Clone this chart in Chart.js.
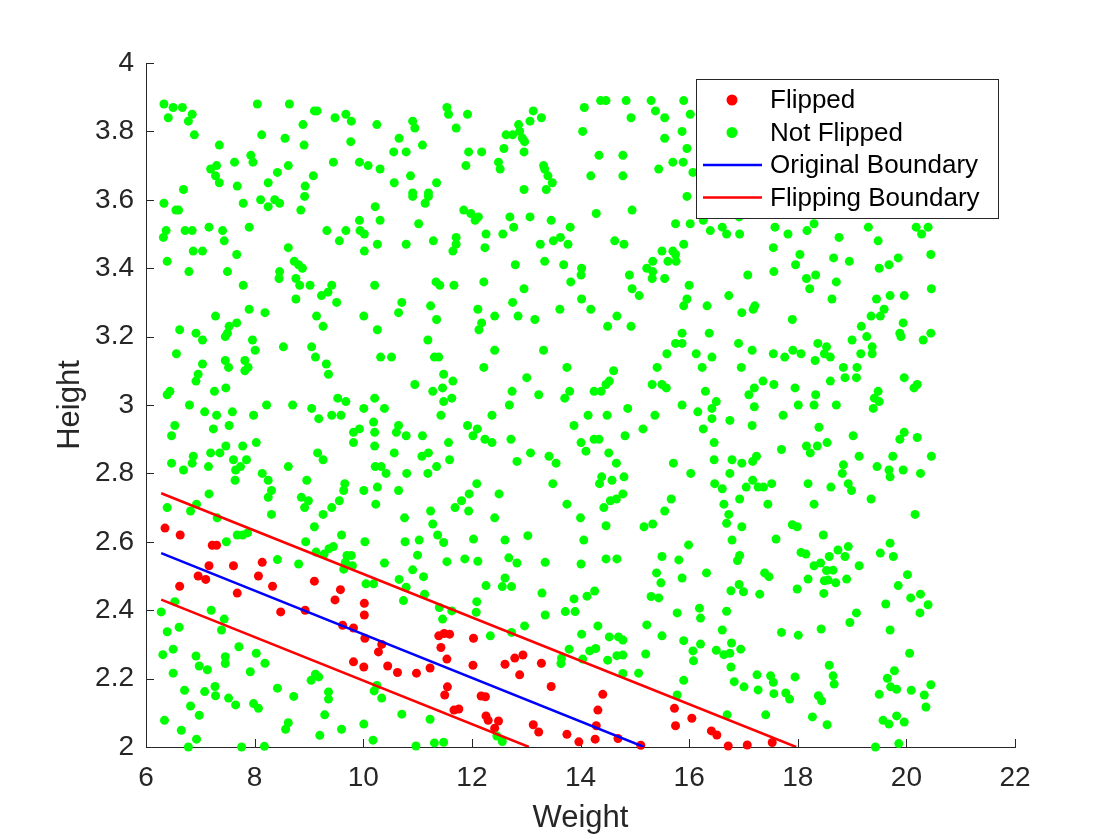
<!DOCTYPE html>
<html>
<head>
<meta charset="utf-8">
<title>Flipped vs Not Flipped</title>
<script src="https://cdn.jsdelivr.net/npm/chart.js@4.4.1/dist/chart.umd.min.js"></script>
<style>
  html, body { margin: 0; padding: 0; background: #fff; }
  #wrap { width: 1120px; height: 840px; }
</style>
</head>
<body>
<div id="wrap"><canvas id="chart"></canvas></div>
<script>
// tick labels
const weightTicks = [6, 8, 10, 12, 14, 16, 18, 20, 22];
const heightTicks = [2, 2.2, 2.4, 2.6, 2.8, 3, 3.2, 3.4, 3.6, 3.8, 4];

// [weight, height]
const flipped = [
  [6.35, 2.64], [6.63, 2.62], [7.22, 2.59], [7.30, 2.59], [7.16, 2.53], [7.61, 2.53], [8.14, 2.54],
  [6.96, 2.50], [7.10, 2.49], [6.62, 2.47], [8.07, 2.50], [8.33, 2.47], [7.68, 2.45], [9.10, 2.485],
  [9.58, 2.46], [9.48, 2.43], [10.02, 2.42], [10.02, 2.386], [8.48, 2.395], [8.93, 2.40], [9.62, 2.356],
  [9.82, 2.348], [10.03, 2.318], [10.34, 2.30], [10.28, 2.278], [9.82, 2.249], [10.01, 2.234], [10.45, 2.237],
  [10.63, 2.218],
  [11.39, 2.325], [11.49, 2.332], [11.59, 2.33], [12.03, 2.318], [11.43, 2.291], [11.54, 2.257], [11.23, 2.231],
  [10.98, 2.216], [12.02, 2.239], [12.61, 2.242], [12.79, 2.26], [12.94, 2.269], [13.28, 2.245], [12.88, 2.211],
  [13.46, 2.177], [11.55, 2.176], [11.50, 2.152], [12.17, 2.149], [12.25, 2.147], [14.41, 2.154], [14.32, 2.108],
  [11.67, 2.108], [11.76, 2.111], [12.26, 2.091], [12.30, 2.078], [12.49, 2.076], [12.42, 2.055], [13.13, 2.065],
  [13.23, 2.044], [13.75, 2.037], [13.97, 2.015], [14.29, 2.062], [14.27, 2.023], [14.69, 2.025], [15.11, 2.005],
  [15.73, 2.113], [15.75, 2.062], [16.05, 2.084], [16.41, 2.047], [16.51, 2.035], [16.72, 2.003], [17.07, 2.006],
  [17.53, 2.013]
];

const notFlipped = [
  // upper left
  [6.33, 3.88], [6.50, 3.87], [6.67, 3.87], [6.41, 3.84], [6.78, 3.83], [6.85, 3.85], [6.89, 3.79], [7.35, 3.76],
  [8.05, 3.88], [8.64, 3.88], [8.13, 3.79], [8.56, 3.78], [9.10, 3.86], [9.15, 3.86], [8.89, 3.82], [8.91, 3.76],
  [9.48, 3.84], [9.68, 3.85], [9.78, 3.83], [10.25, 3.82], [9.77, 3.77], [10.66, 3.78], [10.56, 3.74], [10.79, 3.74],
  [7.19, 3.69], [7.30, 3.70], [7.63, 3.71], [7.93, 3.73], [7.97, 3.71], [7.28, 3.67], [7.35, 3.65], [7.68, 3.64],
  [8.25, 3.65], [8.42, 3.68], [8.62, 3.70], [9.08, 3.67], [8.93, 3.64], [8.92, 3.61], [8.85, 3.57], [9.45, 3.71],
  [9.93, 3.71], [10.09, 3.70], [10.31, 3.69], [10.57, 3.65], [6.69, 3.63], [6.33, 3.59], [6.55, 3.57], [6.60, 3.57],
  [7.79, 3.59], [8.11, 3.60], [8.25, 3.58], [8.37, 3.60], [8.46, 3.59], [10.22, 3.58], [9.93, 3.54], [10.31, 3.54],
  [6.37, 3.51], [6.32, 3.49], [6.72, 3.51], [6.85, 3.51], [7.16, 3.52], [7.41, 3.51], [7.44, 3.48], [7.90, 3.52],
  [9.33, 3.51], [9.68, 3.51], [9.56, 3.48], [9.94, 3.51], [10.02, 3.50], [10.26, 3.47], [10.79, 3.47], [6.87, 3.45],
  [7.04, 3.45], [7.67, 3.44], [8.62, 3.46], [10.02, 3.45], [6.39, 3.42], [6.79, 3.39], [7.50, 3.39], [8.73, 3.42],
  [8.81, 3.41], [8.88, 3.40], [8.46, 3.39], [8.45, 3.37], [8.76, 3.37], [7.79, 3.35], [8.83, 3.35], [9.02, 3.35],
  [9.42, 3.35], [9.35, 3.33], [10.21, 3.35],
  // upper middle
  [10.91, 3.83], [10.95, 3.81], [11.54, 3.87], [11.57, 3.85], [11.92, 3.85], [11.71, 3.81], [11.09, 3.76], [13.13, 3.86],
  [13.07, 3.83], [13.28, 3.84], [12.86, 3.82], [12.63, 3.79], [12.75, 3.79], [12.88, 3.80], [12.93, 3.78], [12.97, 3.77],
  [11.94, 3.74], [12.18, 3.74], [12.59, 3.75], [12.96, 3.74], [11.89, 3.70], [12.49, 3.71], [12.52, 3.69], [13.32, 3.70],
  [13.34, 3.69], [13.40, 3.67], [13.48, 3.65], [12.96, 3.63], [13.37, 3.63], [10.87, 3.67], [11.35, 3.65], [10.91, 3.62],
  [10.91, 3.61], [11.20, 3.62], [11.20, 3.61], [11.14, 3.59], [14.07, 3.87], [14.37, 3.89], [14.47, 3.89], [14.84, 3.89],
  [15.30, 3.89], [15.38, 3.86], [14.93, 3.84], [15.55, 3.84], [14.04, 3.80], [15.55, 3.78], [14.34, 3.73], [14.78, 3.73],
  [15.44, 3.69], [14.19, 3.67], [14.78, 3.67], [14.95, 3.57], [14.29, 3.56], [11.85, 3.57], [11.98, 3.56], [12.12, 3.55],
  [12.06, 3.54], [11.02, 3.53], [12.70, 3.55], [13.07, 3.55], [13.46, 3.54], [13.81, 3.52], [12.26, 3.50], [12.57, 3.50],
  [12.77, 3.52], [11.71, 3.49], [11.71, 3.47], [11.65, 3.45], [11.29, 3.48], [12.24, 3.46], [13.26, 3.47], [13.50, 3.48],
  [13.63, 3.49], [13.77, 3.47], [14.63, 3.48], [14.80, 3.47], [15.50, 3.45], [15.33, 3.42], [15.22, 3.40], [15.33, 3.39],
  [15.32, 3.37], [15.55, 3.37], [15.61, 3.42], [13.34, 3.42], [13.69, 3.41], [14.02, 3.40], [14.01, 3.38], [12.80, 3.41],
  [14.90, 3.38], [11.34, 3.36], [11.41, 3.35], [11.67, 3.35], [12.22, 3.36], [12.96, 3.34], [13.82, 3.36], [14.95, 3.34],
  // upper right
  [15.90, 3.89], [16.02, 3.85], [15.87, 3.80], [15.96, 3.75], [15.70, 3.71], [15.89, 3.71], [16.07, 3.68], [15.96, 3.61],
  [15.75, 3.53], [16.02, 3.53], [16.26, 3.54], [16.39, 3.51], [16.61, 3.52], [16.69, 3.50], [16.93, 3.50], [16.92, 3.55],
  [17.58, 3.52], [17.82, 3.50], [18.17, 3.51], [18.30, 3.53], [18.76, 3.49], [19.30, 3.52], [19.48, 3.48], [20.18, 3.52],
  [20.28, 3.50], [20.40, 3.52], [15.90, 3.47], [15.70, 3.45], [15.75, 3.44], [15.76, 3.42], [17.55, 3.46], [18.04, 3.44],
  [17.96, 3.41], [18.66, 3.43], [18.95, 3.42], [19.85, 3.43], [20.45, 3.44], [19.50, 3.40], [19.68, 3.41], [17.08, 3.38],
  [17.56, 3.39], [18.16, 3.37], [18.33, 3.38], [18.71, 3.36], [16.00, 3.35], [20.46, 3.34], [18.22, 3.34],
  // middle left
  [8.76, 3.31], [9.23, 3.32], [9.51, 3.30], [10.71, 3.30], [10.65, 3.27], [10.01, 3.26], [9.14, 3.26], [9.26, 3.23],
  [10.26, 3.22], [7.90, 3.28], [8.19, 3.27], [7.28, 3.26], [6.62, 3.22], [6.92, 3.21], [7.04, 3.19], [7.53, 3.23],
  [7.67, 3.24], [7.50, 3.21], [7.46, 3.20], [7.96, 3.19], [8.01, 3.16], [8.53, 3.17], [9.05, 3.17], [9.12, 3.14],
  [9.32, 3.12], [9.36, 3.09], [10.32, 3.14], [10.52, 3.14], [6.56, 3.15], [7.04, 3.12], [7.46, 3.13], [7.52, 3.11],
  [7.82, 3.13], [7.88, 3.11], [7.82, 3.10], [6.96, 3.09], [6.92, 3.07], [6.44, 3.04], [6.39, 3.03], [7.26, 3.04],
  [7.47, 3.05], [6.80, 3.00], [7.08, 2.98], [7.30, 2.97], [7.59, 2.98], [7.98, 2.97], [8.22, 3.00], [8.70, 3.00],
  [9.05, 2.99], [9.18, 2.96], [9.42, 2.97], [9.59, 2.97], [9.53, 3.02], [9.68, 3.01], [10.01, 2.99], [10.21, 3.02],
  [10.39, 2.99], [10.19, 2.95], [10.21, 2.92], [10.65, 2.94], [10.61, 2.92], [10.79, 2.91], [9.82, 2.92], [9.93, 2.93],
  [9.82, 2.89], [10.21, 2.88], [10.57, 2.86], [6.53, 2.94], [6.47, 2.91], [7.24, 2.93], [7.53, 2.94], [7.47, 2.88],
  [7.36, 2.86], [7.19, 2.86], [7.78, 2.88], [8.03, 2.89], [6.87, 2.85], [6.85, 2.83], [6.47, 2.83], [6.69, 2.81],
  [7.15, 2.82], [7.61, 2.84], [7.85, 2.84], [7.65, 2.81], [7.74, 2.82], [7.64, 2.78], [8.14, 2.80], [8.25, 2.78],
  [8.62, 2.82], [9.16, 2.86], [9.26, 2.84], [8.96, 2.78], [8.31, 2.75], [8.25, 2.73], [8.86, 2.73], [8.99, 2.72],
  [8.92, 2.70], [9.66, 2.77], [9.64, 2.75], [9.56, 2.72], [9.42, 2.70], [9.26, 2.68], [10.01, 2.75], [10.26, 2.76],
  [10.65, 2.75], [10.23, 2.71], [10.22, 2.82], [10.33, 2.82], [10.42, 2.80], [10.80, 2.80], [7.16, 2.74], [6.93, 2.71],
  [6.82, 2.69], [6.39, 2.70], [7.31, 2.67], [8.31, 2.68], [10.76, 2.67],
  // middle centre
  [11.24, 3.29], [11.35, 3.25], [12.11, 3.28], [12.18, 3.24], [12.13, 3.22], [12.42, 3.26], [12.75, 3.30], [12.85, 3.26],
  [13.16, 3.25], [13.62, 3.28], [14.02, 3.31], [14.19, 3.28], [14.67, 3.26], [14.50, 3.23], [14.93, 3.23], [15.08, 3.32],
  [11.19, 3.19], [11.31, 3.14], [11.39, 3.14], [12.42, 3.16], [13.32, 3.16], [12.22, 3.11], [13.75, 3.11], [13.01, 3.08],
  [10.95, 3.06], [11.48, 3.09], [11.46, 3.05], [11.65, 3.07], [11.28, 3.04], [11.48, 3.01], [11.63, 3.02], [11.43, 2.97],
  [12.74, 3.04], [13.23, 3.03], [12.69, 3.00], [13.80, 3.04], [13.71, 3.02], [14.25, 3.04], [14.38, 3.04], [14.47, 3.06],
  [14.53, 3.07], [14.61, 3.10], [15.41, 3.11], [15.59, 3.15], [15.32, 3.06], [15.50, 3.06], [15.58, 3.05], [12.37, 2.97],
  [14.14, 2.97], [14.49, 2.97], [14.87, 2.99], [15.37, 2.97], [13.88, 2.94], [11.92, 2.94], [12.10, 2.93], [12.02, 2.91],
  [12.24, 2.90], [12.37, 2.89], [12.72, 2.90], [11.09, 2.91], [11.57, 2.89], [11.08, 2.85], [11.20, 2.86], [11.35, 2.82],
  [11.59, 2.84], [11.19, 2.80], [12.83, 2.835], [13.08, 2.86], [13.42, 2.85], [13.55, 2.83], [14.01, 2.89], [14.10, 2.865],
  [14.25, 2.90], [14.34, 2.90], [14.52, 2.86], [14.66, 2.83], [14.82, 2.91], [15.15, 2.93], [14.39, 2.79], [14.35, 2.77],
  [14.58, 2.78], [14.80, 2.79], [13.49, 2.77], [12.09, 2.77], [12.50, 2.74], [11.95, 2.74], [11.81, 2.72], [11.69, 2.70],
  [11.94, 2.69], [11.24, 2.69], [12.42, 2.67], [13.75, 2.71], [14.00, 2.67], [14.43, 2.70], [14.55, 2.72], [14.66, 2.725],
  [14.78, 2.74], [15.55, 2.69],
  // middle right
  [16.73, 3.32], [18.63, 3.31], [19.45, 3.31], [19.70, 3.32], [19.96, 3.32], [15.96, 3.31], [15.90, 3.29], [16.33, 3.29],
  [16.97, 3.27], [17.18, 3.28], [17.21, 3.29], [17.90, 3.25], [19.59, 3.28], [19.52, 3.26], [19.35, 3.26], [19.94, 3.24],
  [19.17, 3.23], [19.27, 3.20], [19.00, 3.19], [19.88, 3.21], [19.90, 3.20], [20.45, 3.21], [20.31, 3.19], [15.87, 3.21],
  [16.37, 3.21], [15.75, 3.18], [15.87, 3.18], [16.13, 3.15], [16.42, 3.14], [16.24, 3.11], [16.91, 3.18], [17.16, 3.16],
  [17.55, 3.15], [17.76, 3.14], [17.91, 3.16], [18.06, 3.15], [18.37, 3.18], [18.53, 3.17], [18.49, 3.15], [18.60, 3.14],
  [18.32, 3.13], [19.37, 3.17], [19.37, 3.15], [19.16, 3.15], [18.84, 3.11], [19.09, 3.11], [18.87, 3.08], [19.08, 3.08],
  [16.96, 3.11], [17.36, 3.07], [17.56, 3.06], [18.60, 3.07], [19.96, 3.08], [20.20, 3.06], [20.14, 3.05], [16.30, 3.04],
  [17.20, 3.05], [17.10, 3.03], [17.95, 3.05], [18.33, 3.03], [18.30, 3.00], [18.01, 3.00], [17.20, 2.995], [16.50, 3.01],
  [16.42, 2.99], [15.87, 3.00], [16.16, 2.98], [18.71, 3.00], [19.48, 3.04], [19.41, 3.02], [19.50, 3.01], [19.39, 2.99],
  [17.73, 2.97], [16.42, 2.96], [16.75, 2.955], [16.26, 2.93], [17.16, 2.94], [18.39, 2.935], [16.46, 2.89], [19.02, 2.91],
  [19.96, 2.92], [19.88, 2.90], [20.20, 2.905], [17.70, 2.87], [18.16, 2.88], [18.23, 2.86], [18.36, 2.88], [18.54, 2.89],
  [16.46, 2.84], [16.79, 2.84], [16.97, 2.83], [17.17, 2.835], [17.24, 2.85], [15.71, 2.83], [16.03, 2.80], [16.75, 2.80],
  [19.13, 2.85], [18.84, 2.825], [18.82, 2.80], [19.46, 2.82], [19.68, 2.81], [19.70, 2.79], [19.94, 2.81], [20.26, 2.80],
  [19.75, 2.85], [20.46, 2.85], [16.47, 2.77], [16.61, 2.755], [17.05, 2.76], [17.17, 2.78], [17.27, 2.76], [17.37, 2.76],
  [17.52, 2.77], [18.19, 2.77], [18.61, 2.76], [18.93, 2.77], [18.99, 2.75], [16.93, 2.725], [17.45, 2.71], [18.30, 2.71],
  [19.35, 2.725], [16.64, 2.71], [15.67, 2.725], [16.73, 2.68], [20.16, 2.68],
  // lower left
  [7.68, 2.62], [7.78, 2.62], [7.87, 2.626], [7.48, 2.60], [9.10, 2.644], [9.60, 2.62], [8.94, 2.60], [9.13, 2.57],
  [9.28, 2.564], [9.37, 2.58], [9.45, 2.586], [10.03, 2.60], [9.70, 2.56], [9.78, 2.56], [9.67, 2.54], [9.80, 2.53],
  [9.64, 2.52], [8.42, 2.548], [8.81, 2.535], [10.39, 2.538], [10.77, 2.60], [10.05, 2.477], [10.19, 2.477], [10.66, 2.49],
  [10.79, 2.467], [10.74, 2.428], [6.28, 2.395], [6.53, 2.425], [7.20, 2.40], [7.44, 2.374], [7.39, 2.342], [6.61, 2.35],
  [6.39, 2.337], [6.50, 2.286], [6.31, 2.27], [6.92, 2.266], [6.98, 2.237], [7.13, 2.226], [6.50, 2.216], [7.46, 2.264],
  [7.46, 2.244], [7.71, 2.293], [8.03, 2.274], [8.19, 2.245], [7.92, 2.22], [6.71, 2.166], [7.08, 2.162], [7.27, 2.177],
  [7.28, 2.15], [7.52, 2.143], [7.65, 2.123], [6.82, 2.12], [6.98, 2.093], [6.34, 2.078], [6.65, 2.049], [6.93, 2.023],
  [6.78, 2.00], [7.76, 2.00], [8.18, 2.002], [7.98, 2.127], [8.07, 2.113], [8.42, 2.172], [8.72, 2.148], [9.04, 2.195],
  [9.12, 2.213], [9.18, 2.205], [9.36, 2.161], [9.36, 2.14], [9.29, 2.094], [8.62, 2.071], [8.57, 2.052], [9.20, 2.034],
  [9.60, 2.052], [10.01, 2.067], [10.18, 2.02], [10.25, 2.18], [10.20, 2.164], [10.34, 2.143], [10.71, 2.096],
  // lower centre
  [11.28, 2.652], [11.03, 2.605], [11.37, 2.62], [11.48, 2.598], [12.03, 2.608], [12.61, 2.605], [13.03, 2.618], [14.47, 2.647],
  [15.17, 2.644], [15.33, 2.652], [14.06, 2.605], [11.00, 2.561], [11.54, 2.542], [11.87, 2.55], [12.11, 2.543], [12.68, 2.553],
  [12.83, 2.538], [13.35, 2.54], [14.01, 2.535], [14.47, 2.55], [14.67, 2.55], [15.50, 2.557], [10.91, 2.518], [11.11, 2.498],
  [15.40, 2.509], [15.48, 2.48], [12.61, 2.494], [12.56, 2.469], [12.73, 2.469], [12.26, 2.472], [13.29, 2.45], [11.13, 2.447],
  [15.30, 2.44], [15.44, 2.436], [14.12, 2.441], [14.26, 2.456], [13.88, 2.433], [12.09, 2.425], [12.08, 2.394], [11.40, 2.408],
  [11.63, 2.398], [11.46, 2.374], [13.72, 2.396], [13.90, 2.396], [13.35, 2.386], [12.97, 2.354], [14.32, 2.354], [15.22, 2.357],
  [15.50, 2.325], [14.02, 2.33], [14.53, 2.322], [14.70, 2.322], [14.78, 2.313], [12.34, 2.325], [12.73, 2.335], [13.79, 2.286],
  [14.17, 2.281], [14.28, 2.288], [13.65, 2.26], [13.64, 2.244], [14.04, 2.257], [14.50, 2.254], [14.67, 2.267], [14.78, 2.269],
  [15.20, 2.272], [14.78, 2.215], [15.07, 2.216], [11.23, 2.081], [10.97, 2.003], [11.31, 2.012], [11.48, 2.014], [12.46, 2.032],
  [12.56, 2.016],
  // lower right
  [16.69, 2.654], [16.97, 2.644], [17.90, 2.65], [17.99, 2.644], [18.47, 2.62], [17.60, 2.608], [16.79, 2.605], [15.99, 2.591],
  [15.81, 2.547], [15.87, 2.494], [16.32, 2.509], [16.93, 2.56], [16.89, 2.545], [17.39, 2.509], [17.47, 2.498], [16.92, 2.475],
  [17.00, 2.454], [16.77, 2.457], [17.30, 2.447], [18.06, 2.569], [18.15, 2.564], [18.58, 2.557], [18.74, 2.576], [18.93, 2.586],
  [18.87, 2.557], [19.13, 2.53], [18.30, 2.53], [18.42, 2.538], [18.53, 2.516], [18.65, 2.517], [18.19, 2.491], [18.49, 2.486],
  [18.56, 2.488], [18.70, 2.48], [18.90, 2.491], [17.99, 2.462], [18.48, 2.449], [19.52, 2.567], [19.70, 2.596], [19.76, 2.557],
  [20.02, 2.504], [19.85, 2.472], [20.08, 2.436], [20.26, 2.447], [20.40, 2.416], [20.25, 2.392], [19.62, 2.418], [15.78, 2.392],
  [16.19, 2.406], [16.21, 2.377], [16.69, 2.397], [16.61, 2.342], [19.08, 2.392], [18.96, 2.364], [18.43, 2.345], [19.70, 2.342],
  [17.70, 2.335], [18.01, 2.327], [15.90, 2.311], [16.07, 2.281], [16.21, 2.301], [16.50, 2.283], [16.64, 2.27], [16.75, 2.274],
  [16.78, 2.304], [16.95, 2.286], [16.08, 2.252], [16.77, 2.234], [15.90, 2.195], [16.83, 2.191], [17.01, 2.176], [17.25, 2.211],
  [17.50, 2.208], [17.55, 2.189], [17.27, 2.167], [17.56, 2.156], [17.78, 2.158], [17.85, 2.14], [17.95, 2.205], [18.58, 2.239],
  [18.65, 2.208], [18.67, 2.184], [18.38, 2.15], [18.44, 2.135], [15.78, 2.152], [16.70, 2.094], [17.41, 2.094], [18.27, 2.088],
  [18.54, 2.065], [20.06, 2.274], [19.78, 2.223], [19.65, 2.201], [19.71, 2.176], [19.82, 2.169], [19.50, 2.154], [20.09, 2.166],
  [20.33, 2.152], [20.45, 2.182], [20.36, 2.117], [19.57, 2.078], [19.68, 2.067], [19.82, 2.091], [19.96, 2.073], [19.43, 2.00],
  [19.86, 2.01]
];

// boundary end points
const originalBoundaryWeight = [6.28, 15.17];
const originalBoundaryHeight = [2.567, 2.0];
const upperFlipWeight = [6.28, 17.97];
const upperFlipHeight = [2.742, 2.0];
const lowerFlipWeight = [6.28, 13.05];
const lowerFlipHeight = [2.431, 2.0];

const legendOrder = ['Flipped', 'Not Flipped', 'Original Boundary', 'Flipping Boundary'];

const FONT = "'Liberation Sans', Arial, Helvetica, sans-serif";
const AXIS_COLOR = '#262626';

const toXY = (xs, ys) => xs.map((v, i) => ({ x: v, y: ys[i] }));
const pairs = arr => arr.map(p => ({ x: p[0], y: p[1] }));

// MATLAB style tick marks pointing into the axes
const innerTicks = {
  id: 'innerTicks',
  beforeDatasetsDraw(chart) {
    const { ctx, chartArea: a, scales: { x, y } } = chart;
    ctx.save();
    ctx.strokeStyle = AXIS_COLOR;
    ctx.lineWidth = 1;
    ctx.beginPath();
    x.ticks.forEach(t => {
      const px = Math.round(x.getPixelForValue(t.value)) + 0.5;
      ctx.moveTo(px, a.bottom);
      ctx.lineTo(px, a.bottom - 8);
    });
    y.ticks.forEach(t => {
      const py = Math.round(y.getPixelForValue(t.value)) + 0.5;
      ctx.moveTo(a.left, py);
      ctx.lineTo(a.left + 8, py);
    });
    ctx.stroke();
    ctx.restore();
  }
};

// boxed legend inside the top right of the axes
const boxLegend = {
  id: 'boxLegend',
  afterDatasetsDraw(chart) {
    const { ctx, chartArea: a } = chart;
    const w = 302, h = 139;
    const left = a.right - 17 - w;
    const top = a.top + 16;
    const rowH = 32.5;
    ctx.save();
    ctx.fillStyle = '#ffffff';
    ctx.fillRect(left, top, w, h);
    ctx.strokeStyle = AXIS_COLOR;
    ctx.lineWidth = 1;
    ctx.strokeRect(Math.round(left) + 0.5, Math.round(top) + 0.5, w, h);
    ctx.font = '26px ' + FONT;
    ctx.textBaseline = 'middle';
    ctx.textAlign = 'left';
    legendOrder.forEach((label, i) => {
      const ds = chart.data.datasets.find(d => d.label === label);
      const cy = top + 21 + i * rowH;
      if (ds.showLine) {
        ctx.strokeStyle = ds.borderColor;
        ctx.lineWidth = 2.5;
        ctx.beginPath();
        ctx.moveTo(left + 7, cy);
        ctx.lineTo(left + 66, cy);
        ctx.stroke();
      } else {
        ctx.fillStyle = ds.backgroundColor;
        ctx.beginPath();
        ctx.arc(left + 36, cy, 5.5, 0, Math.PI * 2);
        ctx.fill();
      }
      ctx.fillStyle = '#000000';
      ctx.fillText(label, left + 74, cy + 1);
    });
    ctx.restore();
  }
};

const lineSet = (label, data, color) => ({
  label: label,
  data: data,
  showLine: true,
  borderColor: color,
  borderWidth: 2.5,
  pointRadius: 0,
  fill: false,
  order: 0
});

new Chart(document.getElementById('chart'), {
  type: 'scatter',
  data: {
    datasets: [
      lineSet('Original Boundary', toXY(originalBoundaryWeight, originalBoundaryHeight), '#0000ff'),
      lineSet('Flipping Boundary', toXY(upperFlipWeight, upperFlipHeight), '#ff0000'),
      lineSet('Flipping Boundary (lower)', toXY(lowerFlipWeight, lowerFlipHeight), '#ff0000'),
      {
        label: 'Not Flipped',
        data: pairs(notFlipped),
        backgroundColor: '#00ff00',
        borderWidth: 0,
        pointRadius: 4.5,
        clip: false,
        order: 1
      },
      {
        label: 'Flipped',
        data: pairs(flipped),
        backgroundColor: '#ff0000',
        borderWidth: 0,
        pointRadius: 4.5,
        clip: false,
        order: 2
      }
    ]
  },
  options: {
    responsive: true,
    maintainAspectRatio: false,
    animation: false,
    layout: { padding: { top: 63, right: 105, bottom: 0, left: 0 } },
    plugins: {
      legend: { display: false },
      tooltip: { enabled: false }
    },
    scales: {
      x: {
        type: 'linear',
        position: 'bottom',
        min: 6,
        max: 22,
        afterBuildTicks: s => { s.ticks = weightTicks.map(v => ({ value: v })); },
        afterFit: s => { s.height = 93; },
        grid: { display: true, drawOnChartArea: false, drawTicks: false },
        border: { display: true, color: AXIS_COLOR, width: 1 },
        ticks: {
          color: AXIS_COLOR,
          font: { family: FONT, size: 28 },
          padding: 14,
          maxRotation: 0,
          autoSkip: false,
          callback: v => String(v)
        },
        title: {
          display: true,
          text: 'Weight',
          color: AXIS_COLOR,
          font: { family: FONT, size: 31 },
          padding: { top: 0, bottom: 3 }
        }
      },
      y: {
        type: 'linear',
        position: 'left',
        min: 2,
        max: 4,
        afterBuildTicks: s => { s.ticks = heightTicks.map(v => ({ value: v })); },
        afterFit: s => { s.width = 146; },
        grid: { display: true, drawOnChartArea: false, drawTicks: false },
        border: { display: true, color: AXIS_COLOR, width: 1 },
        ticks: {
          color: AXIS_COLOR,
          font: { family: FONT, size: 28 },
          padding: 12,
          autoSkip: false,
          callback: v => String(v)
        },
        title: {
          display: true,
          text: 'Height',
          color: AXIS_COLOR,
          font: { family: FONT, size: 31 },
          padding: { top: 52, bottom: 0 }
        }
      }
    }
  },
  plugins: [innerTicks, boxLegend]
});
</script>
</body>
</html>
